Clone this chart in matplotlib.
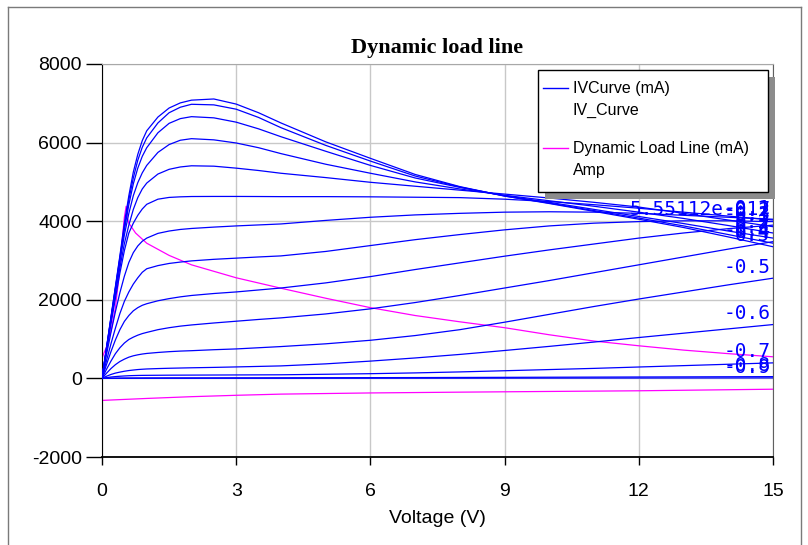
import numpy as np
import matplotlib.pyplot as plt
from matplotlib.patches import Rectangle
from matplotlib.lines import Line2D

plt.rcParams['axes.unicode_minus'] = False

# drain voltage grid shared by all IV curves (V)
volts = [0, 0.1, 0.2, 0.3, 0.4, 0.5, 0.6, 0.7, 0.8, 0.9, 1.0, 1.25, 1.5, 1.75, 2.0,
         2.5, 3, 3.5, 4, 5, 6, 7, 8, 9, 10, 11, 12, 13, 14, 15]

# drain current per gate bias (mA)
i_p05 = [0, 780, 1560, 2340, 3120, 3950, 4650, 5250, 5700, 6050, 6300, 6650, 6880, 7010, 7080,
         7110, 6980, 6760, 6500, 6020, 5600, 5190, 4880, 4640, 4450, 4250, 4050, 3840, 3600, 3350]
i_p04 = [0, 770, 1540, 2310, 3080, 3850, 4550, 5100, 5550, 5880, 6120, 6500, 6760, 6900, 6975,
         6960, 6850, 6640, 6380, 5930, 5530, 5150, 4870, 4640, 4460, 4270, 4080, 3880, 3660, 3440]
i_p03 = [0, 760, 1520, 2280, 3040, 3780, 4420, 4950, 5350, 5650, 5870, 6250, 6490, 6610, 6660,
         6630, 6520, 6350, 6150, 5780, 5420, 5100, 4860, 4650, 4480, 4300, 4120, 3940, 3750, 3570]
i_p02 = [0, 750, 1500, 2250, 2980, 3650, 4200, 4650, 4980, 5230, 5420, 5750, 5950, 6060, 6100,
         6070, 5990, 5870, 5720, 5450, 5220, 5000, 4820, 4660, 4520, 4380, 4230, 4070, 3890, 3700]
i_p01 = [0, 730, 1450, 2150, 2820, 3430, 3900, 4300, 4600, 4820, 4970, 5200, 5320, 5380, 5410,
         5400, 5350, 5290, 5220, 5110, 4990, 4890, 4790, 4690, 4590, 4480, 4360, 4200, 4030, 3860]
i_0 = [0, 700, 1380, 2040, 2680, 3250, 3700, 3950, 4150, 4310, 4430, 4560, 4605, 4620, 4628,
       4630, 4630, 4628, 4625, 4625, 4620, 4610, 4600, 4560, 4500, 4420, 4330, 4230, 4130, 4030]
i_m01 = [0, 600, 1170, 1700, 2180, 2600, 2950, 3200, 3370, 3490, 3570, 3690, 3750, 3790, 3815,
         3850, 3880, 3905, 3930, 4020, 4100, 4160, 4200, 4230, 4240, 4230, 4200, 4150, 4100, 4050]
i_m02 = [0, 450, 880, 1280, 1650, 1960, 2200, 2400, 2560, 2700, 2790, 2870, 2925, 2960, 2990,
         3030, 3060, 3090, 3117, 3230, 3380, 3530, 3660, 3780, 3880, 3950, 3990, 4010, 4010, 3990]
i_m03 = [0, 350, 680, 980, 1240, 1450, 1600, 1720, 1800, 1860, 1900, 1975, 2030, 2075, 2110,
         2160, 2200, 2250, 2300, 2430, 2590, 2770, 2940, 3110, 3270, 3420, 3570, 3700, 3810, 3900]
i_m04 = [0, 230, 440, 630, 780, 900, 990, 1050, 1100, 1140, 1170, 1240, 1290, 1330, 1360,
         1410, 1455, 1500, 1540, 1640, 1770, 1930, 2110, 2300, 2490, 2690, 2890, 3090, 3290, 3480]
i_m05 = [0, 130, 250, 350, 430, 490, 540, 575, 600, 620, 635, 660, 680, 695, 705,
         730, 750, 780, 810, 880, 970, 1090, 1240, 1430, 1630, 1830, 2020, 2200, 2380, 2550]
i_m06 = [0, 55, 100, 135, 160, 182, 200, 213, 225, 233, 240, 250, 258, 264, 270,
         280, 292, 305, 318, 370, 440, 520, 610, 710, 815, 925, 1040, 1150, 1260, 1370]
i_m07 = [0, 18, 35, 46, 55, 62, 68, 72, 75, 77, 78, 80, 82, 83, 84,
         86, 88, 90, 92, 105, 120, 140, 165, 195, 225, 255, 290, 325, 360, 395]
i_m08 = [0, 3, 5, 6, 8, 9, 10, 10, 11, 11, 12, 12, 13, 13, 13,
         13, 14, 14, 15, 17, 19, 21, 24, 27, 30, 33, 36, 39, 42, 45]
i_m09 = [0, 0.5, 1, 1.5, 2, 2, 2, 2.5, 3, 3, 3, 3, 3, 3, 3,
         4, 4, 4, 4, 5, 5, 6, 6, 7, 8, 9, 10, 11, 12, 13]

curves = [i_p05, i_p04, i_p03, i_p02, i_p01, i_0, i_m01, i_m02, i_m03, i_m04,
          i_m05, i_m06, i_m07, i_m08, i_m09]
vgs_labels = ["0.5", "0.4", "0.3", "0.2", "0.1", "5.55112e-017", "-0.1", "-0.2",
              "-0.3", "-0.4", "-0.5", "-0.6", "-0.7", "-0.8", "-0.9"]

# dynamic load line, upper branch and lower branch (mA)
load_v = [0, 0.1, 0.2, 0.3, 0.38, 0.45, 0.5, 0.54, 0.57, 0.56, 0.6, 0.75, 1.0, 1.5, 2.0,
          3.0, 4.0, 5.0, 6.0, 7.0, 8.0, 9.0, 10.0, 11.0, 12.0, 13.0, 14.0, 15.0]
load_i = [520, 800, 1200, 1800, 2600, 3500, 4100, 4380, 4300, 4100, 3950, 3700, 3440, 3130, 2890,
          2560, 2295, 2040, 1800, 1600, 1440, 1290, 1110, 950, 830, 720, 630, 550]
load2_v = [0, 1, 2, 3, 4, 5, 6, 8, 10, 12, 15]
load2_i = [-560, -510, -465, -430, -400, -385, -370, -350, -332, -315, -275]

W, H = 808, 545
fig = plt.figure(figsize=(W / 100, H / 100), dpi=100)
ax = fig.add_axes([102 / W, 1 - 457 / H, 671 / W, 393 / H])

blue = '#0000ff'
mag = '#ff00ff'

for cur, lab in zip(curves, vgs_labels):
    ax.plot(volts, cur, color=blue, lw=0.9, zorder=3)
    ax.annotate(lab, (volts[-1], cur[-1]), xytext=(-2, 1), textcoords='offset points',
                ha='right', va='bottom', color=blue, fontsize=14,
                family='DejaVu Sans Mono', annotation_clip=False, clip_on=True, zorder=4)

ax.plot(load_v, load_i, color=mag, lw=0.9, zorder=2)
ax.plot(load2_v, load2_i, color=mag, lw=0.9, zorder=2)

ax.set_xlim(0, 15)
ax.set_ylim(-2000, 8000)
ax.set_xticks([0, 3, 6, 9, 12, 15])
ax.set_yticks([-2000, 0, 2000, 4000, 6000, 8000])
ax.grid(True, color='#c8c8c8', lw=1, zorder=0)
ax.set_axisbelow(True)
ax.tick_params(axis='y', length=11.5, width=1, pad=3, labelsize=14)
ax.tick_params(axis='x', length=6, width=1, pad=13, labelsize=14)
for lbl in ax.get_xticklabels() + ax.get_yticklabels():
    lbl.set_family('Liberation Sans')
ax.spines['left'].set_color('black')
ax.spines['bottom'].set_color('black')
ax.spines['bottom'].set_linewidth(1.3)
ax.spines['top'].set_color('#a8a8a8')
ax.spines['right'].set_color('#606060')

ax.set_xlabel('Voltage (V)', family='Liberation Sans', fontsize=14, labelpad=7)
ax.set_title('Dynamic load line', family='Liberation Serif', fontweight='bold',
             fontsize=16, pad=8)

# legend box with drop shadow, drawn in figure pixels
def fx(px):
    return px / W

def fy(py):
    return 1 - py / H

fig.patches.append(Rectangle((fx(545), fy(199)), fx(768) - fx(538), fy(70) - fy(192),
                             transform=fig.transFigure, facecolor='#8c8c8c', edgecolor='none', zorder=5))
fig.patches.append(Rectangle((fx(538), fy(192)), fx(768) - fx(538), fy(70) - fy(192),
                             transform=fig.transFigure, facecolor='white', edgecolor='black', lw=1, zorder=6))
fig.lines.append(Line2D([fx(543), fx(568)], [fy(88), fy(88)], transform=fig.transFigure,
                        color=blue, lw=1, zorder=7))
fig.lines.append(Line2D([fx(543), fx(568)], [fy(148), fy(148)], transform=fig.transFigure,
                        color=mag, lw=1, zorder=7))
for txt, py in [('IVCurve (mA)', 88), ('IV_Curve', 110), ('Dynamic Load Line (mA)', 148), ('Amp', 170)]:
    fig.text(fx(573), fy(py), txt, ha='left', va='center', fontsize=11.5,
             family='Liberation Sans', zorder=7)

# outer window frame
for xs, ys in [([8, 801], [7, 7]), ([8, 8], [7, 545]), ([801, 801], [7, 545])]:
    fig.lines.append(Line2D([fx(x) for x in xs], [fy(y) for y in ys], transform=fig.transFigure,
                            color='#7a7a7a', lw=1))

fig.savefig('out.png', dpi=100)
